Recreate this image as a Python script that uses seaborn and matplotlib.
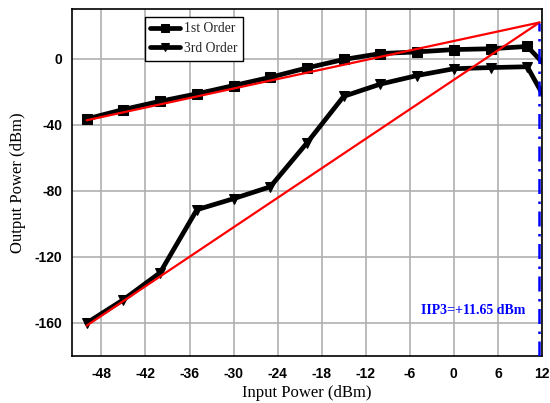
import matplotlib
matplotlib.use("Agg")
import matplotlib.pyplot as plt
import seaborn as sns
import pandas as pd

# Measured two-tone response
input_dbm = [-50, -45, -40, -35, -30, -25, -20, -15, -10, -5, 0, 5, 10, 15]
first_order = [-36.4, -30.7, -25.7, -21.2, -16.2, -11.2, -5.5, -0.4, 3.2, 4.2, 5.6, 6.1, 7.5, -16.0]
third_order = [-160.0, -145.9, -129.5, -91.4, -84.7, -77.5, -50.9, -22.7, -15.3, -10.1, -6.0, -5.3, -4.8, -45.0]

# Extrapolated fits meeting at the intercept point
iip3 = 11.65
oip3 = 22.0
fit_start_x = -50
fit1_start_y = -37.2
fit3_start_y = -161.6

x_ticks = [-48, -42, -36, -30, -24, -18, -12, -6, 0, 6, 12]
y_ticks = [-160, -120, -80, -40, 0]

df = pd.DataFrame({
    "Input": input_dbm * 2,
    "Output": first_order + third_order,
    "Series": ["1st Order"] * len(input_dbm) + ["3rd Order"] * len(input_dbm),
})

sns.set_theme(style="white")
plt.rcParams["font.family"] = ["Liberation Serif", "DejaVu Serif"]
plt.rcParams["axes.unicode_minus"] = False

fig = plt.figure(figsize=(5.5, 4.03), dpi=100)
ax = fig.add_axes([72 / 550, 1 - 356 / 403, 470 / 550, 346.7 / 403])

ax.set_xlim(-52, 12)
ax.set_ylim(-180, 30)
ax.set_xticks(x_ticks)
ax.set_yticks(y_ticks)
ax.grid(True, color="#b0b0b0", lw=1.2, zorder=0)
ax.set_axisbelow(True)

sns.lineplot(data=df, x="Input", y="Output", hue="Series", style="Series",
             markers={"1st Order": "s", "3rd Order": "v"}, dashes=False,
             palette={"1st Order": "black", "3rd Order": "black"},
             lw=3.4, markersize=6.5, markeredgecolor="black",
             ax=ax, legend=True, zorder=3)

# Linear extrapolations (slope ~1 and ~3)
ax.plot([fit_start_x, iip3], [fit1_start_y, oip3], color="red", lw=1.6, zorder=4)
ax.plot([fit_start_x, iip3], [fit3_start_y, oip3], color="red", lw=1.6, zorder=4)

# Intercept marker
ax.plot([iip3, iip3], [-180, oip3], color="blue", lw=1.8,
        linestyle=(0, (6, 3, 1, 3)), dash_capstyle="butt", zorder=5)
ax.text(iip3 - 1.9, -152.5, f"IIP3=+{iip3:.2f} dBm", color="blue",
        fontsize=10, fontweight="bold", ha="right", va="center",
        family=["Liberation Serif"])

for sp in ax.spines.values():
    sp.set_color("black")
    sp.set_linewidth(1.2)

ax.tick_params(axis="both", length=0)
ax.tick_params(axis="x", pad=8)
ax.tick_params(axis="y", pad=7)
for lab in ax.get_xticklabels() + ax.get_yticklabels():
    lab.set_family(["Liberation Sans", "DejaVu Sans"])
    lab.set_fontweight("bold")
    lab.set_fontsize(10)
    lab.set_color("black")

ax.set_xlabel("Input Power (dBm)", fontsize=12, color="black", labelpad=3)
ax.set_ylabel("Output Power (dBm)", fontsize=12, color="black", labelpad=6)

leg = ax.legend(loc="upper left", bbox_to_anchor=(0.155, 0.978),
                fontsize=9.8, frameon=True, fancybox=False, framealpha=1,
                edgecolor="black", borderpad=0.4, handlelength=2.2,
                handletextpad=0.3, labelspacing=0.5, borderaxespad=0)
leg.get_frame().set_linewidth(1.0)
for h in leg.legend_handles:
    h.set_linewidth(3.4)
    h.set_markersize(6)

fig.savefig("out.png", dpi=100)
